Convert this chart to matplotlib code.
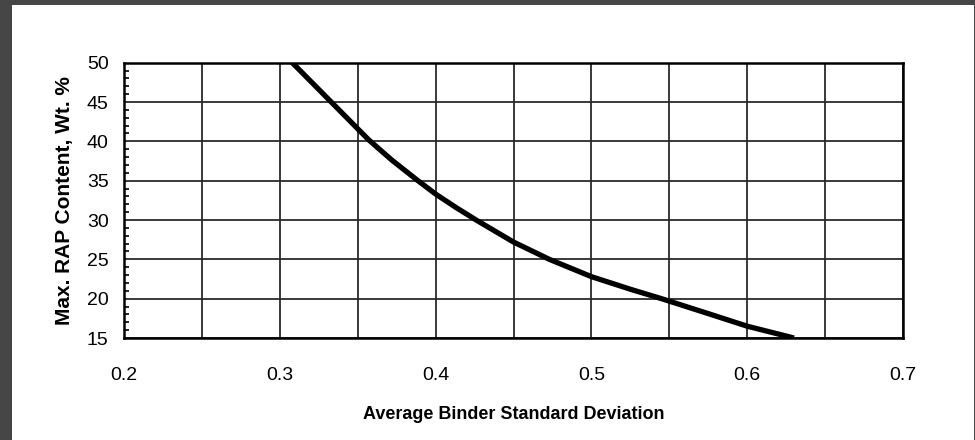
import matplotlib
matplotlib.use("Agg")
import matplotlib.pyplot as plt
from matplotlib.patches import Rectangle
from matplotlib.ticker import MultipleLocator

plt.rcParams['font.family'] = ['Liberation Sans', 'DejaVu Sans']

# curve
binder_sd = [0.308, 0.333, 0.345, 0.357, 0.372, 0.388, 0.400, 0.413,
             0.426, 0.450, 0.473, 0.500, 0.525, 0.545, 0.575, 0.600, 0.630]
max_rap = [50.0, 45.0, 42.6, 40.2, 37.6, 35.1, 33.3, 31.6,
           30.0, 27.2, 25.0, 22.8, 21.2, 20.0, 18.1, 16.5, 15.0]

x_ticks = [0.2, 0.3, 0.4, 0.5, 0.6, 0.7]
y_ticks = [15, 20, 25, 30, 35, 40, 45, 50]

fig = plt.figure(figsize=(9.75, 4.4), dpi=100, facecolor='#464646')
# white page inside the dark viewer frame
fig.patches.append(Rectangle((12 / 975, 0), 962 / 975, 435 / 440,
                             transform=fig.transFigure, facecolor='white',
                             edgecolor='none', zorder=-1))

ax = fig.add_axes([0.1272, 0.2318, 0.7990, 0.6257])
ax.plot(binder_sd, max_rap, color='black', lw=3.8, solid_capstyle='butt',
        solid_joinstyle='round', zorder=5)

ax.set_xlim(0.2, 0.7)
ax.set_ylim(15, 50)
ax.set_xticks(x_ticks)
ax.set_xticklabels([f"{v:.1f}" for v in x_ticks])
ax.set_yticks(y_ticks)
ax.xaxis.set_minor_locator(MultipleLocator(0.05))
ax.yaxis.set_minor_locator(MultipleLocator(1))

ax.grid(which='both', axis='x', color='#2a2a2a', lw=1.3)
ax.grid(which='major', axis='y', color='#2a2a2a', lw=1.3)
ax.set_axisbelow(True)

ax.tick_params(axis='x', which='both', length=0, pad=21, labelsize=14)
ax.tick_params(axis='y', which='major', length=0, pad=11, labelsize=14)
ax.tick_params(axis='y', which='minor', direction='in', length=3.5,
               width=1.2, color='black')

for sp in ax.spines.values():
    sp.set_linewidth(1.8)
    sp.set_color('black')

ax.set_xlabel("Average Binder Standard Deviation", fontsize=13,
              fontweight='bold', labelpad=16)
ax.set_ylabel("Max. RAP Content, Wt. %", fontsize=15,
              fontweight='bold', labelpad=9.5)

fig.savefig("out.png", dpi=100, facecolor=fig.get_facecolor())
